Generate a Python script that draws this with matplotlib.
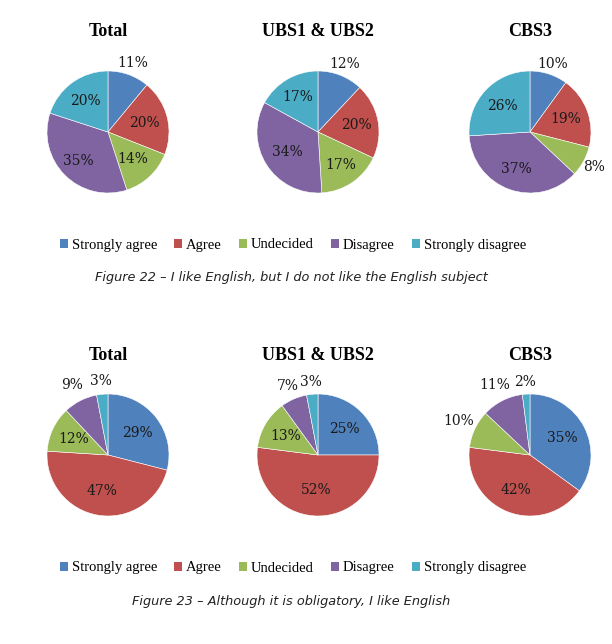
import numpy as np
import matplotlib
matplotlib.use('Agg')
import matplotlib.pyplot as plt
from matplotlib.patches import Patch

categories = ['Strongly agree', 'Agree', 'Undecided', 'Disagree', 'Strongly disagree']
colors = ['#4F81BD', '#C0504D', '#9BBB59', '#8064A2', '#4BACC6']

groups = ['Total', 'UBS1 & UBS2', 'CBS3']

# Figure 22 - I like English, but I do not like the English subject
fig22_values = [[11, 20, 14, 35, 20],
                [12, 20, 17, 34, 17],
                [10, 19, 8, 37, 26]]
# Figure 23 - Although it is obligatory, I like English
fig23_values = [[29, 47, 12, 9, 3],
                [25, 52, 13, 7, 3],
                [35, 42, 10, 11, 2]]

captions = ['Figure 22 \u2013 I like English, but I do not like the English subject',
            'Figure 23 \u2013 Although it is obligatory, I like English']

# label distance (fraction of radius) per slice, like Excel "best fit"
fig22_ldist = [[1.2, 0.62, 0.6, 0.68, 0.63],
               [1.2, 0.64, 0.65, 0.6, 0.66],
               [1.18, 0.62, 1.2, 0.65, 0.62]]
fig23_ldist = [[0.6, 0.6, 0.63, 1.28, 1.22],
               [0.6, 0.58, 0.62, 1.23, 1.2],
               [0.6, 0.62, 1.3, 1.28, 1.2]]

W, H = 612, 644
fig = plt.figure(figsize=(W / 100, H / 100), dpi=100)

r = 61
k = 1.6
centers_x = [108, 318, 530]
serif = 'Liberation Serif'


def draw_pie(cx, cy, vals, ldist):
    ax = fig.add_axes([(cx - k * r) / W, 1 - (cy + k * r) / H, 2 * k * r / W, 2 * k * r / H])
    wedges, _ = ax.pie(vals, colors=colors, startangle=90, counterclock=False,
                       wedgeprops=dict(edgecolor='white', linewidth=0.4))
    for w, v, d in zip(wedges, vals, ldist):
        ang = np.deg2rad((w.theta1 + w.theta2) / 2)
        ax.text(d * np.cos(ang), d * np.sin(ang), '%d%%' % v, ha='center', va='center',
                fontsize=10, family='DejaVu Serif', color='#1a1a1a')
    ax.set_xlim(-k, k)
    ax.set_ylim(-k, k)
    ax.set_aspect('equal')
    ax.axis('off')


for block, (vals_set, ld_set, y0) in enumerate([(fig22_values, fig22_ldist, 0),
                                                 (fig23_values, fig23_ldist, 323)]):
    cy = 132 + y0
    for cx, g, vals, ld in zip(centers_x, groups, vals_set, ld_set):
        draw_pie(cx, cy, vals, ld)
        fig.text(cx / W, 1 - (32 + y0) / H, g, ha='center', va='center',
                 fontsize=13, fontweight='bold', family=serif)
    handles = [Patch(facecolor=c, edgecolor='none') for c in colors]
    fig.legend(handles, categories, loc='center', bbox_to_anchor=(293 / W, 1 - (245 + y0) / H),
               ncol=5, frameon=False, prop={'family': serif, 'size': 10.5},
               handlelength=0.55, handleheight=0.55, handletextpad=0.25, columnspacing=1.2)
    fig.text(291 / W, 1 - (278 + y0) / H, captions[block], ha='center', va='center',
             fontsize=9.3, style='italic', family='DejaVu Sans', color='#222222')

fig.savefig('out.png', dpi=100, facecolor='white')
